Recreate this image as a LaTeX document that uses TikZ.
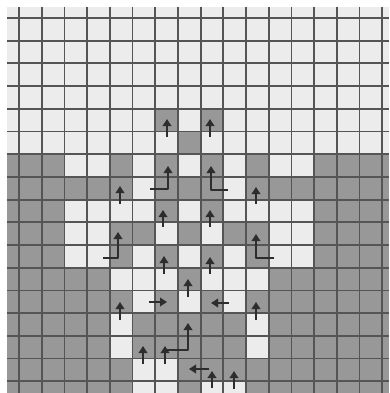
\documentclass[tikz,border=0pt]{standalone}
\usetikzlibrary{arrows.meta}
\definecolor{cellgray}{RGB}{152,152,152}
\definecolor{cellwhite}{RGB}{236,236,236}
\definecolor{gridline}{RGB}{85,85,85}
\definecolor{arrowcol}{RGB}{45,45,45}
\begin{document}
\begin{tikzpicture}[x=1pt,y=-1pt,
  arr/.style={draw=arrowcol, line width=2.6pt, line join=round, -{Triangle[length=7pt,width=8.5pt]}},
  gl/.style={draw=gridline, line width=1.8pt}]
\useasboundingbox (0,0) rectangle (389,393);
\fill[white] (0,0) rectangle (389,393);
\begin{scope}
\clip (7,7) rectangle (389,393);
\fill[cellwhite] (7,7) rectangle (389,154.2);
\fill[cellgray] (7,154.2) rectangle (389,393);
\foreach \c/\r in {2/6,3/6,5/6,7/6,9/6,11/6,12/6,
                   5/7,9/7,
                   2/8,3/8,4/8,5/8,7/8,9/8,10/8,11/8,12/8,
                   2/9,3/9,6/9,8/9,11/9,12/9,
                   2/10,3/10,5/10,7/10,9/10,11/10,12/10,
                   4/11,5/11,6/11,8/11,9/11,10/11,
                   5/12,7/12,9/12,
                   4/13,10/13,4/14,10/14,
                   5/15,6/15,
                   5/16,6/16,8/16,9/16}
  \fill[cellwhite] ({19+22.7*\c},{18+22.7*\r}) rectangle ++(22.7,22.7);
\foreach \c/\r in {6/4,8/4,7/5}
  \fill[cellgray] ({19+22.7*\c},{18+22.7*\r}) rectangle ++(22.7,22.7);
\foreach \k in {0,...,16} {
  \draw[gl] ({19+22.7*\k},7) -- ({19+22.7*\k},393);
  \draw[gl] (7,{18+22.7*\k}) -- (389,{18+22.7*\k});
}
\end{scope}
% arrow end points
\coordinate (a1t) at (167,137); \coordinate (a1h) at (167,119);
\coordinate (a2t) at (210,137); \coordinate (a2h) at (210,119);
\coordinate (a3t) at (150,189); \coordinate (a3c) at (168,189); \coordinate (a3h) at (168,166);
\coordinate (a4t) at (228,190); \coordinate (a4c) at (211,190); \coordinate (a4h) at (211,166);
\coordinate (a5t) at (120,204); \coordinate (a5h) at (120,186);
\coordinate (a6t) at (103,258); \coordinate (a6c) at (118,258); \coordinate (a6h) at (118,232);
\coordinate (a7t) at (163,227); \coordinate (a7h) at (163,210);
\coordinate (a8t) at (164,274); \coordinate (a8h) at (164,256);
\coordinate (a9t) at (210,227); \coordinate (a9h) at (210,210);
\coordinate (a10t) at (210,274); \coordinate (a10h) at (210,257);
\coordinate (a11t) at (256,204); \coordinate (a11h) at (256,187);
\coordinate (a12t) at (274,258); \coordinate (a12c) at (256,258); \coordinate (a12h) at (256,234);
\coordinate (a13t) at (120,320); \coordinate (a13h) at (120,302);
\coordinate (a14t) at (149,302); \coordinate (a14h) at (167,302);
\coordinate (a15t) at (229,303); \coordinate (a15h) at (211,303);
\coordinate (a16t) at (256,320); \coordinate (a16h) at (256,302);
\coordinate (a17t) at (188,297); \coordinate (a17h) at (188,279);
\coordinate (a18t) at (166,350); \coordinate (a18c) at (188,350); \coordinate (a18h) at (188,323);
\coordinate (a19t) at (143,364); \coordinate (a19h) at (143,346);
\coordinate (a20t) at (165,364); \coordinate (a20h) at (165,346);
\coordinate (a21t) at (209,369); \coordinate (a21h) at (189,369);
\coordinate (a22t) at (212,388); \coordinate (a22h) at (212,371);
\coordinate (a23t) at (234,389); \coordinate (a23h) at (234,371);
\draw[arr] (a1t) -- (a1h);
\draw[arr] (a2t) -- (a2h);
\draw[arr] (a3t) -- (a3c) -- (a3h);
\draw[arr] (a4t) -- (a4c) -- (a4h);
\draw[arr] (a5t) -- (a5h);
\draw[arr] (a6t) -- (a6c) -- (a6h);
\draw[arr] (a7t) -- (a7h);
\draw[arr] (a8t) -- (a8h);
\draw[arr] (a9t) -- (a9h);
\draw[arr] (a10t) -- (a10h);
\draw[arr] (a11t) -- (a11h);
\draw[arr] (a12t) -- (a12c) -- (a12h);
\draw[arr] (a13t) -- (a13h);
\draw[arr] (a14t) -- (a14h);
\draw[arr] (a15t) -- (a15h);
\draw[arr] (a16t) -- (a16h);
\draw[arr] (a17t) -- (a17h);
\draw[arr] (a18t) -- (a18c) -- (a18h);
\draw[arr] (a19t) -- (a19h);
\draw[arr] (a20t) -- (a20h);
\draw[arr] (a21t) -- (a21h);
\draw[arr] (a22t) -- (a22h);
\draw[arr] (a23t) -- (a23h);
\end{tikzpicture}
\end{document}
